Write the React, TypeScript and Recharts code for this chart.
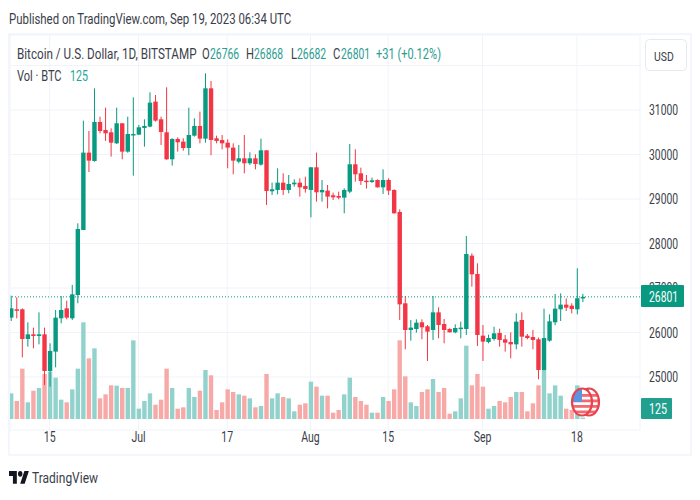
import React from "react";
import { ComposedChart, Bar, Cell, XAxis, YAxis, CartesianGrid, ReferenceLine } from "recharts";

const UP = "#089981";
const DOWN = "#F23645";
const VOL_UP = "#92D2CC";
const VOL_DOWN = "#F7A9A7";
const FONT = "Roboto, sans-serif";
const TEXT = "#3a3e4a";
const NUM_SQUEEZE = 0.74;

const dayLabels = ["15", "Jul", "17", "Aug", "15", "Sep", "18"];
const dayTicks = [7, 23, 39, 54, 68, 85, 102];
const priceTicks = [25000, 26000, 27000, 28000, 29000, 30000, 31000, 32000];
const lastClose = 26801;
const lastVolume = 125;

const opens = [26334,26521,26521,25854,25959,25922,25959,25135,25570,26319,26543,26319,26843,28304,30042,29854,30731,30551,30499,30251,30701,30064,30446,30446,30596,30626,31188,30791,30499,29892,30349,30289,30146,30423,30641,30356,31487,30364,30326,30266,30154,29839,29914,29802,29914,29772,30094,29173,29203,29367,29203,29330,29367,29293,29203,29712,29150,29188,29083,29068,29030,29165,29780,29577,29412,29382,29427,29262,29427,29203,28708,26656,26056,26079,26229,26139,26056,26453,26191,26079,26004,26086,26079,27727,27315,25929,25787,25854,25989,25847,25787,25734,26281,25929,25899,25847,25158,25817,26229,26521,26626,26603,26521,26766];
const highs = [26828,26790,26543,26229,26109,26453,26109,25757,26506,26820,26715,27068,28454,30761,30528,31487,30850,31053,30588,31053,30701,30850,31285,30663,30791,31397,31337,30850,31510,30364,30386,30364,31053,30813,30963,31824,31652,30423,30438,30341,30251,30214,30438,30049,30004,30356,30094,29367,29690,29577,29540,29442,29465,29502,29712,30042,29427,29315,29143,29165,29240,30236,30117,29704,29540,29480,29442,29667,29465,29218,28768,26820,26281,26296,26296,26169,26820,26566,26304,26094,26184,26244,28169,27779,27554,26169,25951,26131,26086,25944,26004,26431,26453,25966,26056,25884,26536,26408,26865,26880,26768,26656,27442,26868];
const lows = [26259,26318,25442,25682,25644,25734,24820,24783,25217,26206,26296,26281,26656,28304,29607,29839,30476,30304,29952,30236,29892,30040,29525,30438,30176,30610,30738,30214,29880,29750,30064,30086,29982,30400,30251,30266,29982,30251,30116,29690,29555,29802,29577,29765,29667,29750,28866,29090,29105,29090,29128,29278,29053,29143,28589,28941,28941,28790,28978,28993,28678,29128,29390,29315,29233,29360,29255,29113,29090,28670,26281,25622,25817,25997,25847,25360,25832,25869,25757,26000,25982,25869,25944,27030,25697,25360,25757,25817,25682,25570,25420,25622,25682,25847,25622,24948,25150,25794,26161,26259,26483,26431,26408,26682];
const closes = [26543,26498,25854,25959,25922,25959,25135,25585,26334,26506,26334,26858,28326,30042,29862,30731,30528,30476,30266,30701,30064,30461,30461,30611,30641,31165,30761,30506,29892,30349,30274,30146,30438,30641,30356,31487,30326,30304,30251,30154,29862,29914,29802,29914,29787,30094,29180,29218,29367,29203,29337,29367,29262,29225,29712,29150,29203,29053,29038,29030,29203,29780,29555,29405,29382,29420,29262,29427,29188,28678,26633,26056,26109,26221,26116,26019,26453,26169,26056,26004,26101,26109,27764,27307,25944,25794,25876,25981,25832,25772,25734,26244,25907,25876,25832,25158,25876,26251,26536,26626,26558,26528,26770,26801];
const volumes = [2310,1620,4530,1500,2550,2790,4050,4260,3720,1740,1500,2670,4530,8700,5460,6360,1860,2220,3030,3000,2790,2790,7080,930,1620,2310,1290,1740,4530,2790,930,1050,2790,1980,2550,4410,3930,810,1500,2670,2430,2220,2100,1860,1050,1170,4050,1860,2310,1980,1860,690,1290,1410,3360,2910,2100,2100,570,810,2220,3720,1980,1620,1290,570,570,1980,1620,2670,7080,3840,1500,1170,2430,2670,3600,2430,2790,480,690,1860,6600,3030,4050,2910,930,1170,1620,1500,1980,2430,2430,690,1410,3030,4410,2310,3030,2100,930,810,3030,lastVolume];

const rows = opens.map((open, i) => ({
  day: i,
  open,
  high: highs[i],
  low: lows[i],
  close: closes[i],
  range: [lows[i], highs[i]],
  volume: volumes[i],
}));

function Candle(props: any) {
  const { x, y, width, height, payload } = props;
  const { open, close, high, low } = payload;
  const color = close >= open ? UP : DOWN;
  const perUnit = height / (high - low);
  const top = y + (high - Math.max(open, close)) * perUnit;
  const bodyH = Math.max(1.5, Math.abs(open - close) * perUnit);
  const cx = x + width / 2;
  return (
    <g>
      <line x1={cx} x2={cx} y1={y} y2={y + height} stroke={color} strokeWidth={1} />
      <rect x={x} y={top} width={width} height={bodyH} fill={color} />
    </g>
  );
}

function Txt({ x, y, sx = 0.8, children, fill = TEXT, size = 14, anchor = "start" }: any) {
  return (
    <text transform={`translate(${x},${y}) scale(${sx},1)`} fontFamily={FONT} fontSize={size} fill={fill} textAnchor={anchor}>
      {children}
    </text>
  );
}

function PriceTick(props: any) {
  const { y, payload } = props;
  if (payload.value === 32000) return null;
  return <Txt x={649} y={y + 5.5} sx={NUM_SQUEEZE}>{String(payload.value)}</Txt>;
}

function DayTick(props: any) {
  const { x, payload } = props;
  const k = dayTicks.indexOf(payload.value);
  return <Txt x={x} y={442} sx={0.75} anchor="middle">{dayLabels[k]}</Txt>;
}

function Flag() {
  const stripes = [-10, -4.5, 1, 6.5];
  const one = (cx: number, id: string) => (
    <g>
      <clipPath id={id}><ellipse cx={cx} cy={402} rx={10} ry={13.5} /></clipPath>
      <ellipse cx={cx} cy={402} rx={10} ry={13.5} fill="#fff" />
      <g clipPath={`url(#${id})`}>
        {stripes.map((d) => (
          <rect key={d} x={cx - 12} y={402 + d + 2} width={24} height={2.8} fill="#F4696F" />
        ))}
        <rect x={cx - 12} y={388} width={12} height={14} fill="#5B95E0" />
      </g>
      <ellipse cx={cx} cy={402} rx={10} ry={13.5} fill="none" stroke="#E8434F" strokeWidth={2.2} />
    </g>
  );
  return (
    <g>
      {one(589, "flagB")}
      {one(582, "flagA")}
    </g>
  );
}

export default function App() {
  const G = "#2a9d8f";
  return (
    <div style={{ position: "absolute", left: 0, top: 0, width: 700, height: 500, background: "#fff" }}>
      <ComposedChart
        width={700}
        height={500}
        data={rows}
        margin={{ top: 35, right: 10, bottom: 45, left: 10 }}
      >
        <CartesianGrid stroke="#F0F3FA" yAxisId="price" xAxisId="price" />
        <XAxis
          xAxisId="price"
          dataKey="day"
          type="number"
          scale="linear"
          domain={[-0.144, 113.37]}
          allowDataOverflow
          ticks={dayTicks}
          interval={0}
          tickLine={false}
          axisLine={false}
          height={25}
          tick={<DayTick />}
        />
        <XAxis
          xAxisId="vol"
          dataKey="day"
          type="number"
          scale="linear"
          domain={[-0.144, 113.37]}
          allowDataOverflow
          ticks={dayTicks}
          hide
        />
        <YAxis
          yAxisId="price"
          orientation="right"
          domain={[23809, 32685]}
          allowDataOverflow
          ticks={priceTicks}
          interval={0}
          width={50}
          tickLine={false}
          axisLine={false}
          tick={<PriceTick />}
        />
        <YAxis yAxisId="vol" hide domain={[-990, 34560]} allowDataOverflow />
        <Bar xAxisId="vol" yAxisId="vol" dataKey="volume" barSize={4.4} isAnimationActive={false}>
          {rows.map((r) => (
            <Cell key={r.day} fill={r.close >= r.open ? VOL_UP : VOL_DOWN} />
          ))}
        </Bar>
        <ReferenceLine xAxisId="price" yAxisId="price" y={lastClose} stroke={UP} strokeDasharray="1 2" />
        <Bar xAxisId="price" yAxisId="price" dataKey="range" barSize={4.4} shape={<Candle />} isAnimationActive={false} />
      </ComposedChart>
      <svg width={700} height={500} style={{ position: "absolute", left: 0, top: 0, pointerEvents: "none" }}>
        <rect x={9} y={34} width={682} height={421} fill="none" stroke="#F0F3FA" strokeWidth={1.5} />
        <Txt x={9} y={24} sx={0.815}>Published on TradingView.com, Sep 19, 2023 06:34 UTC</Txt>
        <Txt x={17} y={59} sx={0.835}>Bitcoin / U.S. Dollar, 1D, BITSTAMP</Txt>
        <Txt x={202} y={59}>O</Txt>
        <Txt x={210} y={59} sx={NUM_SQUEEZE} fill={G}>26766</Txt>
        <Txt x={246} y={59}>H</Txt>
        <Txt x={254} y={59} sx={NUM_SQUEEZE} fill={G}>26868</Txt>
        <Txt x={291} y={59}>L</Txt>
        <Txt x={297} y={59} sx={NUM_SQUEEZE} fill={G}>26682</Txt>
        <Txt x={333} y={59}>C</Txt>
        <Txt x={341} y={59} sx={NUM_SQUEEZE} fill={G}>{String(lastClose)}</Txt>
        <Txt x={376} y={59} sx={0.79} fill={G}>+31 (+0.12%)</Txt>
        <Txt x={17} y={81} sx={0.79}>Vol · BTC</Txt>
        <Txt x={70} y={81} sx={0.76} fill="#26A69A">{String(lastVolume)}</Txt>
        <rect x={645.5} y={39.5} width={41} height={31} rx={4} fill="#fff" stroke="#E6E9F0" strokeWidth={1} />
        <Txt x={654} y={61} size={13}>USD</Txt>
        <rect x={641} y={285} width={43} height={22} rx={1} fill={UP} />
        <Txt x={649} y={301.5} sx={NUM_SQUEEZE} fill="#fff">{String(lastClose)}</Txt>
        <rect x={641} y={398} width={31} height={21} rx={1} fill="#22A08F" />
        <Txt x={649} y={414} sx={0.76} fill="#fff">{String(lastVolume)}</Txt>
        <Flag />
        <g transform="translate(9,468) scale(0.56,0.72)">
          <path d="M14 22H7V11H0V4h14v18zM28 22h-8l7.5-18h8L28 22z" fill="#131722" />
          <circle cx={20} cy={8} r={4} fill="#131722" />
        </g>
        <Txt x={32} y={483} size={15}>TradingView</Txt>
      </svg>
    </div>
  );
}
